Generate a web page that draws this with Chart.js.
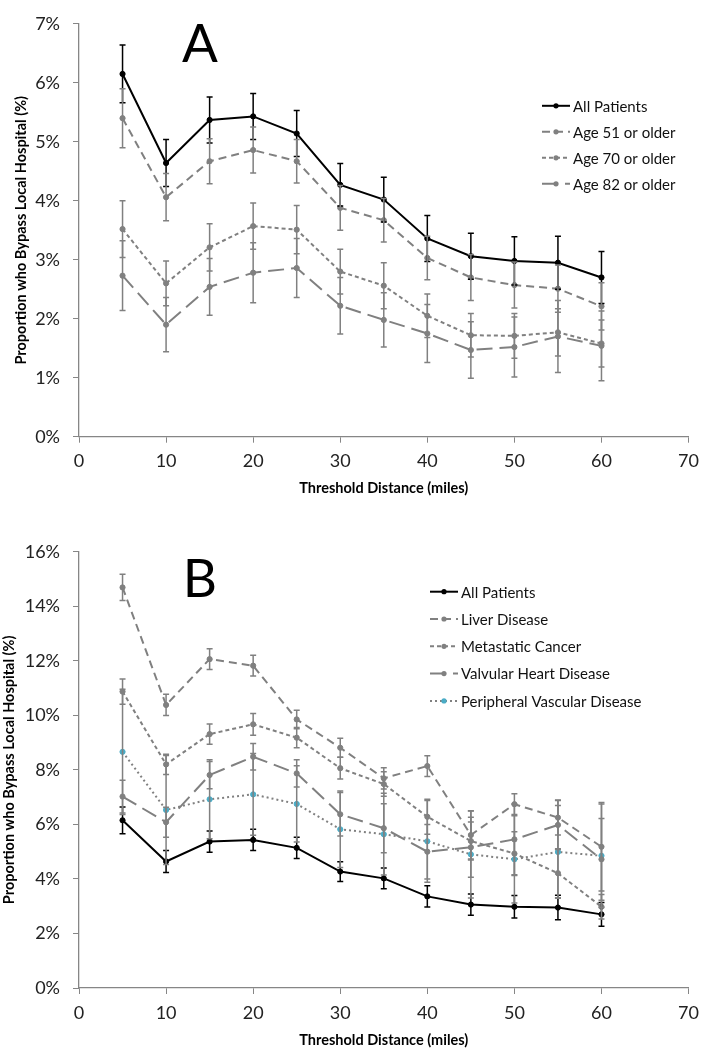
<!DOCTYPE html>
<html>
<head>
<meta charset="utf-8">
<script src="https://cdn.jsdelivr.net/npm/chart.js@4.4.1/dist/chart.umd.min.js"></script>
<style>
  html, body { margin: 0; padding: 0; background: #fff; }
  canvas { position: absolute; left: 0; }
  #chartA { top: 0; }
  #chartB { top: 515px; }
</style>
</head>
<body>
<canvas id="chartA" width="707" height="498"></canvas>
<canvas id="chartB" width="707" height="535"></canvas>
<script>
// threshold distance (miles)
const distances = [5, 10, 15, 20, 25, 30, 35, 40, 45, 50, 55, 60];
const xTicks = [0, 10, 20, 30, 40, 50, 60, 70];
const yTicksA = [0, 1, 2, 3, 4, 5, 6, 7];
const yTicksB = [0, 2, 4, 6, 8, 10, 12, 14, 16];

// panel A - proportion who bypass (%)
const allPatients = [6.15, 4.64, 5.37, 5.43, 5.14, 4.27, 4.02, 3.36, 3.06, 2.98, 2.95, 2.70];
const allPatientsErr = [0.49, 0.40, 0.39, 0.39, 0.39, 0.36, 0.38, 0.39, 0.39, 0.41, 0.45, 0.44];
const age51 = [5.40, 4.06, 4.67, 4.86, 4.67, 3.88, 3.67, 3.03, 2.70, 2.57, 2.51, 2.21];
const age51Err = [0.50, 0.40, 0.38, 0.39, 0.37, 0.38, 0.37, 0.37, 0.39, 0.39, 0.40, 0.40];
const age70 = [3.52, 2.60, 3.21, 3.57, 3.51, 2.80, 2.56, 2.05, 1.72, 1.71, 1.77, 1.58];
const age70Err = [0.48, 0.38, 0.40, 0.39, 0.41, 0.38, 0.39, 0.37, 0.37, 0.38, 0.40, 0.40];
const age82 = [2.73, 1.90, 2.54, 2.78, 2.86, 2.22, 1.98, 1.75, 1.47, 1.52, 1.70, 1.54];
const age82Err = [0.59, 0.46, 0.48, 0.51, 0.50, 0.48, 0.46, 0.49, 0.48, 0.51, 0.61, 0.59];

// panel B - comorbidities (%)
const liver = [14.69, 10.38, 12.06, 11.82, 9.85, 8.81, 7.69, 8.14, 5.61, 6.74, 6.25, 5.18];
const liverErr = [0.48, 0.39, 0.38, 0.38, 0.34, 0.35, 0.39, 0.38, 0.88, 0.38, 0.64, 1.62];
const metastatic = [10.87, 8.20, 9.31, 9.67, 9.18, 8.06, 7.48, 6.28, 5.39, 4.93, 4.21, 2.98];
const metastaticErr = [0.46, 0.37, 0.37, 0.40, 0.37, 0.40, 0.45, 0.64, 0.70, 0.80, 0.90, 0.45];
const valvular = [7.02, 6.08, 7.81, 8.48, 7.87, 6.37, 5.86, 5.00, 5.16, 5.45, 5.98, 4.72];
const valvularErr = [0.60, 0.55, 0.50, 0.49, 0.50, 0.80, 0.90, 1.00, 1.10, 1.30, 0.90, 1.50];
const peripheral = [8.66, 6.53, 6.92, 7.10, 6.75, 5.82, 5.64, 5.38, 4.90, 4.72, 4.99, 4.85];
const peripheralErr = [2.30, 2.00, 1.45, 1.50, 1.40, 1.40, 1.50, 1.50, 1.60, 1.60, 1.70, 1.90];

const GRAY = '#808080';
const AXIS = '#868686';
const FONT = 'Lato, "Open Sans", sans-serif';

function toPoints(vals) {
  return distances.map((d, i) => ({ x: d, y: vals[i] }));
}

function series(label, vals, errs, color, dash, marker) {
  return {
    label: label,
    data: toPoints(vals),
    errors: errs,
    borderColor: color,
    borderWidth: 2,
    borderDash: dash,
    pointRadius: 2.6,
    pointBackgroundColor: marker || color,
    pointBorderColor: marker || color,
    pointBorderWidth: 1,
    tension: 0,
    fill: false
  };
}

// vertical error bars with caps, placed with the chart's own scales
const errorBars = {
  id: 'errorBars',
  afterDatasetsDraw(chart) {
    const ctx = chart.ctx;
    const xs = chart.scales.x, ys = chart.scales.y;
    ctx.save();
    ctx.setLineDash([]);
    chart.data.datasets.forEach(ds => {
      if (!ds.errors) return;
      ctx.strokeStyle = ds.borderColor;
      ctx.lineWidth = 1.5;
      ds.data.forEach((p, i) => {
        const e = ds.errors[i];
        const px = xs.getPixelForValue(p.x);
        const top = ys.getPixelForValue(p.y + e);
        const bot = ys.getPixelForValue(p.y - e);
        ctx.beginPath();
        ctx.moveTo(px, top); ctx.lineTo(px, bot);
        ctx.moveTo(px - 3, top); ctx.lineTo(px + 3, top);
        ctx.moveTo(px - 3, bot); ctx.lineTo(px + 3, bot);
        ctx.stroke();
      });
    });
    ctx.restore();
  }
};

// legend drawn inside the plot like the original
const insideLegend = {
  id: 'insideLegend',
  afterDraw(chart, args, opts) {
    const ctx = chart.ctx;
    const area = chart.chartArea;
    const x0 = opts.x, lineW = 28;
    ctx.save();
    ctx.font = '15px ' + FONT;
    ctx.textBaseline = 'middle';
    ctx.textAlign = 'left';
    chart.data.datasets.forEach((ds, i) => {
      const y = area.top + opts.y + i * opts.gap;
      ctx.strokeStyle = ds.borderColor;
      ctx.lineWidth = 2;
      ctx.setLineDash(ds.borderDash || []);
      ctx.beginPath();
      ctx.moveTo(x0, y); ctx.lineTo(x0 + lineW, y);
      ctx.stroke();
      ctx.setLineDash([]);
      ctx.fillStyle = ds.pointBackgroundColor;
      ctx.beginPath();
      ctx.arc(x0 + lineW / 2, y, 2.6, 0, Math.PI * 2);
      ctx.fill();
      ctx.fillStyle = '#111';
      ctx.fillText(ds.label, x0 + lineW + 3, y + 1);
    });
    ctx.restore();
  }
};

const panelLetter = {
  id: 'panelLetter',
  afterDraw(chart, args, opts) {
    const ctx = chart.ctx;
    ctx.save();
    ctx.font = '53px ' + FONT;
    ctx.fillStyle = '#000';
    ctx.textAlign = 'center';
    ctx.textBaseline = 'alphabetic';
    ctx.fillText(opts.text, opts.x, chart.chartArea.top + opts.baseline);
    ctx.restore();
  }
};

function makeChart(id, datasets, yTicks, yMax, p) {
  const canvas = document.getElementById(id);
  return new Chart(canvas, {
    type: 'line',
    data: { datasets: datasets },
    plugins: [errorBars, insideLegend, panelLetter],
    options: {
      responsive: false,
      animation: false,
      layout: { padding: { top: p.top, right: 13, bottom: 0, left: 0 } },
      plugins: {
        legend: { display: false },
        tooltip: { enabled: false },
        insideLegend: p.legend,
        panelLetter: p.letter
      },
      scales: {
        x: {
          type: 'linear',
          min: 0, max: 70,
          afterBuildTicks: s => { s.ticks = xTicks.map(v => ({ value: v })); },
          afterFit: s => { s.height = p.xHeight; },
          grid: { drawOnChartArea: false, tickLength: 6, color: AXIS },
          border: { color: AXIS, width: 1.3 },
          ticks: { color: '#222', font: { family: FONT, size: 18 }, padding: 8, maxRotation: 0 },
          title: {
            display: true,
            text: 'Threshold Distance (miles)',
            color: '#000',
            font: { family: FONT, size: 14.5, weight: 'bold' },
            padding: { top: 0, bottom: 1 }
          }
        },
        y: {
          min: 0, max: yMax,
          afterBuildTicks: s => { s.ticks = yTicks.map(v => ({ value: v })); },
          afterFit: s => { s.width = 79; },
          grid: { drawOnChartArea: false, tickLength: 6, color: AXIS },
          border: { color: AXIS, width: 1.3 },
          ticks: {
            color: '#222',
            font: { family: FONT, size: 18 },
            padding: 13,
            callback: v => v + '%'
          },
          title: {
            display: true,
            text: 'Proportion who Bypass Local Hospital (%)',
            color: '#000',
            font: { family: FONT, size: 14.5, weight: 'bold' },
            padding: { top: p.yTitlePad, bottom: 0 }
          }
        }
      }
    }
  });
}

makeChart('chartA', [
  series('All Patients', allPatients, allPatientsErr, '#000', []),
  series('Age 51 or older', age51, age51Err, GRAY, [8, 5]),
  series('Age 70 or older', age70, age70Err, GRAY, [4, 3]),
  series('Age 82 or older', age82, age82Err, GRAY, [16, 7])
], yTicksA, 7, {
  top: 10, xHeight: 61.3, yTitlePad: 13,
  legend: { x: 542, y: 82, gap: 26 },
  letter: { text: 'A', x: 200, baseline: 38 }
});

makeChart('chartB', [
  series('All Patients', allPatients, allPatientsErr, '#000', []),
  series('Liver Disease', liver, liverErr, GRAY, [8, 5]),
  series('Metastatic Cancer', metastatic, metastaticErr, GRAY, [4, 3]),
  series('Valvular Heart Disease', valvular, valvularErr, GRAY, [16, 7]),
  series('Peripheral Vascular Disease', peripheral, peripheralErr, GRAY, [2, 3], '#4bacc6')
], yTicksB, 16, {
  top: 36.7, xHeight: 62, yTitlePad: 1,
  legend: { x: 430, y: 40, gap: 27.3 },
  letter: { text: 'B', x: 200, baseline: 45 }
});
</script>
</body>
</html>
